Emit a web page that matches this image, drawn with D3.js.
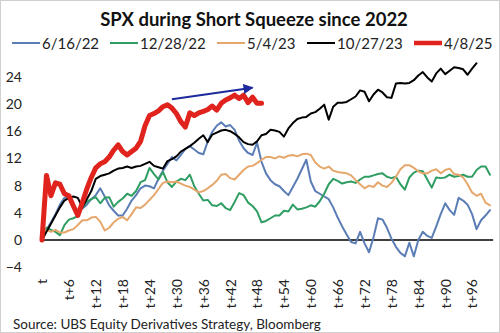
<!DOCTYPE html>
<html>
<head>
<meta charset="utf-8">
<script src="https://cdn.jsdelivr.net/npm/d3@7"></script>
<style>
  html, body { margin: 0; padding: 0; background: #fff; }
  svg { display: block; font-family: Lato, "Open Sans", sans-serif; }
</style>
</head>
<body>
<svg id="chart" width="500" height="333"></svg>
<script>
// Cumulative SPX move (%) from the start of each short squeeze, by trading day
const seriesNames = ["6/16/22", "12/28/22", "5/4/23", "10/27/23", "4/8/25"];
const seriesColors = ["#5b7db5", "#2f9e63", "#e6a76c", "#000000", "#e0231c"];

const jun22 = [0, 1.5, 2.6, 3.8, 5.2, 6.2, 6.3, 5.3, 4.2, 4.6, 5.2, 6.0, 6.6, 7.6, 6.4, 5.1, 4.3, 3.6, 3.6, 4.6,
  5.8, 6.6, 7.6, 8.0, 7.9, 7.6, 9.0, 10.2, 11.2, 12.2, 11.7, 12.5, 13.4, 13.8, 13.3, 12.8, 12.6, 14.5, 15.9, 16.8,
  17.3, 16.7, 16.9, 16.2, 14.6, 13.5, 12.8, 12.5, 14.3, 11.5, 9.8, 8.8, 8.2, 7.9, 7.2, 6.6, 7.8, 9.0, 10.4, 11.8,
  8.6, 7.2, 6.8, 6.4, 6.0, 4.8, 3.3, 2.0, 0.8, -0.3, -0.5, 1.2, -0.5, -1.8, 0.4, 3.2, 3.0, 1.8, 0.2, -1.0,
  -1.9, -2.4, -0.4, -2.4, 0.0, 1.2, 0.6, 0.3, 2.0, 3.8, 5.4, 4.4, 3.7, 6.2, 5.8, 5.2, 3.8, 1.6, 2.9, 3.6, 4.4];

const dec22 = [0, 1.8, 1.5, 1.2, 0.7, 2.2, 3.0, 3.2, 3.5, 4.8, 5.6, 6.0, 6.3, 5.4, 6.2, 6.3, 4.9, 5.6, 6.1, 6.8,
  6.5, 7.2, 8.5, 8.8, 10.6, 9.7, 8.9, 10.0, 8.5, 7.8, 8.6, 9.0, 8.8, 9.6, 7.9, 6.8, 5.8, 5.9, 5.1, 5.0,
  5.4, 4.7, 4.4, 5.6, 6.9, 6.6, 5.5, 5.0, 4.2, 2.6, 2.8, 3.2, 3.6, 3.6, 4.3, 4.2, 5.2, 4.5, 4.6, 4.8,
  5.1, 4.9, 5.7, 6.8, 8.2, 9.0, 8.7, 8.3, 8.5, 8.6, 8.4, 8.9, 9.3, 9.3, 9.5, 9.7, 9.8, 9.3, 9.1, 9.3,
  8.2, 7.4, 9.2, 9.9, 10.2, 10.1, 8.9, 7.7, 9.2, 9.1, 9.2, 9.6, 9.3, 9.4, 9.6, 9.3, 9.3, 10.3, 10.8, 10.8, 9.6];

const may23 = [0, 1.5, 1.2, 1.5, 1.1, 1.1, 1.4, 1.6, 2.2, 2.9, 2.9, 3.3, 3.4, 2.7, 1.4, 1.8, 2.6, 3.1, 3.4, 2.9,
  3.8, 4.8, 4.7, 5.2, 5.9, 6.6, 7.5, 8.4, 8.6, 8.5, 8.6, 8.3, 8.0, 7.8, 7.4, 7.0, 7.2, 7.6, 8.1, 8.7,
  9.6, 9.7, 9.1, 8.9, 9.6, 10.3, 10.8, 10.9, 11.3, 11.8, 12.2, 12.2, 12.0, 12.3, 12.1, 12.4, 12.5, 12.3, 12.6, 12.7,
  12.5, 11.4, 10.8, 10.5, 10.8, 10.2, 10.0, 9.9, 9.8, 9.5, 8.8, 8.2, 7.6, 8.0, 7.8, 8.5, 8.0, 7.8, 8.4, 9.3,
  10.4, 11.0, 11.0, 10.6, 10.1, 9.8, 9.8, 10.2, 10.4, 9.8, 10.3, 10.5, 9.7, 9.6, 9.2, 8.2, 7.0, 6.5, 6.8, 5.5, 5.1];

const oct23 = [0, 1.2, 2.4, 3.6, 4.8, 5.8, 6.2, 6.4, 6.2, 4.8, 6.0, 7.2, 9.0, 9.4, 9.6, 9.8, 10.2, 10.5, 10.6, 10.8,
  10.6, 10.8, 10.9, 11.2, 11.5, 10.9, 10.7, 10.5, 11.6, 11.9, 12.3, 13.0, 13.4, 13.8, 14.3, 14.9, 15.4, 14.4, 15.5, 15.8,
  16.1, 16.2, 16.0, 15.6, 15.1, 14.4, 14.1, 14.0, 14.5, 15.4, 15.6, 16.2, 16.1, 15.9, 15.2, 16.4, 17.2, 17.8, 18.0, 18.1,
  18.6, 18.8, 19.3, 19.9, 17.7, 19.6, 20.2, 20.2, 20.3, 20.7, 21.1, 22.0, 21.8, 20.4, 21.4, 22.1, 21.7, 21.0, 20.9, 23.0,
  23.1, 23.0, 23.1, 23.5, 24.2, 24.7, 23.9, 23.3, 24.5, 25.2, 24.4, 24.9, 25.4, 25.3, 25.1, 24.3, 25.2, 26.0];

const apr25 = [0, 9.5, 6.5, 8.4, 8.2, 6.8, 6.5, 5.0, 3.6, 5.5, 7.5, 9.2, 10.6, 11.2, 11.5, 12.2, 13.2, 14.0, 13.0, 12.5,
  13.0, 13.5, 14.5, 16.8, 18.3, 18.6, 19.0, 19.6, 19.9, 19.4, 18.6, 17.4, 16.6, 18.7, 18.3, 18.7, 18.9, 19.2, 19.7, 19.1,
  20.1, 20.6, 20.9, 21.3, 20.8, 21.3, 20.2, 21.0, 20.1, 20.1];

const seriesValues = [jun22, dec22, may23, oct23, apr25];
const seriesWidths = [2, 2, 2, 2, 5];

const yTicks = [-4, 0, 4, 8, 12, 16, 20, 24];
const xTicks = d3.range(0, 97, 6);
const xTickLabel = d => d === 0 ? "t" : "t+" + d;

// Trend arrow over the latest squeeze: [day, value] endpoints
const arrowStart = [29, 20.7];
const arrowEnd = [47, 22.4];

const svg = d3.select("#chart");
const W = 500, H = 333;

svg.append("rect").attr("x", 0.5).attr("y", 0.5).attr("width", W - 1).attr("height", H - 1)
  .attr("fill", "#fff").attr("stroke", "#d0d0d0");

const x = d3.scaleLinear().domain([0, 100]).range([42, 490]);
const y = d3.scaleLinear().domain([-4, 24]).range([267.2, 76.8]);

// Title
svg.append("text").attr("x", 254).attr("y", 26).attr("text-anchor", "middle")
  .attr("font-size", 18.5).attr("font-weight", "bold").attr("fill", "#111")
  .text("SPX during Short Squeeze since 2022");

// Legend
const legendX = [12, 110, 217, 307, 414];
const legend = svg.append("g");
seriesNames.forEach((name, i) => {
  const g = legend.append("g").attr("transform", `translate(${legendX[i]},43)`);
  g.append("line").attr("x1", 0).attr("x2", 28).attr("y1", 0).attr("y2", 0)
    .attr("stroke", seriesColors[i]).attr("stroke-width", i === 4 ? 4.5 : 2);
  g.append("text").attr("x", 30).attr("y", 5.5).attr("font-size", 15).attr("fill", "#222").text(name);
});

// Y axis labels
const yAxis = d3.axisLeft(y).tickValues(yTicks).tickSize(0).tickPadding(0);
svg.append("g").attr("transform", "translate(22,0)").call(yAxis)
  .call(g => g.select(".domain").remove())
  .call(g => g.selectAll("text").attr("font-size", 14).attr("fill", "#222")
    .attr("font-family", "Lato, 'Open Sans', sans-serif"));

// Zero baseline
svg.append("line").attr("x1", x(-0.45)).attr("x2", x(100.7)).attr("y1", y(0)).attr("y2", y(0))
  .attr("stroke", "#000").attr("stroke-width", 1.5);

// X axis labels, rotated
const xAxis = d3.axisBottom(x).tickValues(xTicks).tickFormat(xTickLabel).tickSize(0).tickPadding(0);
svg.append("g").attr("transform", "translate(0,279)").call(xAxis)
  .call(g => g.select(".domain").remove())
  .call(g => g.selectAll("text")
    .attr("font-size", 14).attr("fill", "#222").attr("font-family", "Lato, 'Open Sans', sans-serif")
    .attr("transform", "rotate(-90)").attr("text-anchor", "end")
    .attr("x", 0).attr("y", 0).attr("dx", 0).attr("dy", "0.35em"));

// Series lines
const line = d3.line().x((d, i) => x(i)).y(d => y(d)).curve(d3.curveLinear);
seriesValues.forEach((vals, i) => {
  svg.append("path").datum(vals).attr("d", line)
    .attr("fill", "none").attr("stroke", seriesColors[i]).attr("stroke-width", seriesWidths[i])
    .attr("stroke-linejoin", "round").attr("stroke-linecap", "round");
});

// Trend arrow
const defs = svg.append("defs");
defs.append("marker").attr("id", "head").attr("viewBox", "0 0 10 10").attr("refX", 9).attr("refY", 5)
  .attr("markerWidth", 5).attr("markerHeight", 5).attr("orient", "auto")
  .append("path").attr("d", "M0,0L10,5L0,10z").attr("fill", "#1c2a9c");
svg.append("line")
  .attr("x1", x(arrowStart[0])).attr("y1", y(arrowStart[1]))
  .attr("x2", x(arrowEnd[0])).attr("y2", y(arrowEnd[1]))
  .attr("stroke", "#1c2a9c").attr("stroke-width", 2).attr("marker-end", "url(#head)");

// Source note
svg.append("text").attr("x", 13).attr("y", 329).attr("font-size", 13.5).attr("fill", "#222")
  .text("Source: UBS Equity Derivatives Strategy, Bloomberg");
</script>
</body>
</html>
